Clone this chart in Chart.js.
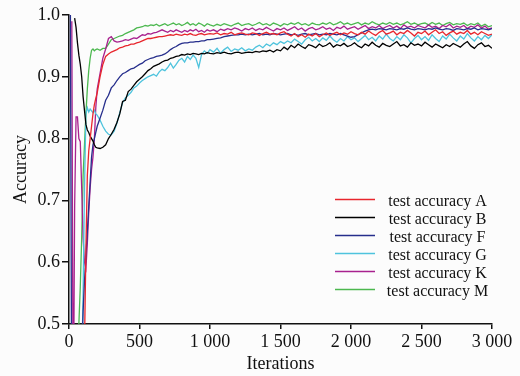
<!DOCTYPE html>
<html>
<head>
<meta charset="utf-8">
<script src="https://cdn.jsdelivr.net/npm/chart.js@4"></script>
<style>
  html, body { margin: 0; padding: 0; background: #fcfcfc; }
  canvas { display: block; }
</style>
</head>
<body>
<canvas id="accChart" width="520" height="376"></canvas>
<script>
// iterations (denser sampling at the start where curves change fast)
const iterations = [
  0,10,20,30,40,50,60,70,80,90,100,110,120,130,140,150,160,170,180,190,200,
  220,240,260,280,300,320,340,360,380,400,420,440,460,480,500,520,540,560,580,600,
  620,640,660,680,700,720,740,760,780,800,820,840,860,880,900,920,940,960,980,1000,
  1025,1050,1075,1100,1125,1150,1175,1200,1225,1250,
  1275,1300,1325,1350,1375,1400,1425,1450,1475,1500,
  1525,1550,1575,1600,1625,1650,1675,1700,1725,1750,
  1775,1800,1825,1850,1875,1900,1925,1950,1975,2000,
  2025,2050,2075,2100,2125,2150,2175,2200,2225,2250,
  2275,2300,2325,2350,2375,2400,2425,2450,2475,2500,
  2525,2550,2575,2600,2625,2650,2675,2700,2725,2750,
  2775,2800,2825,2850,2875,2900,2925,2950,2975,3000
];

const accA = [
  null,null,null,null,null,null,null,null,null,0.30,0.38,0.47,0.62,0.74,0.78,0.80,0.82,0.84,0.855,0.865,0.874,
  0.90,0.92,0.933,0.937,0.94,0.942,0.944,0.947,0.948,0.95,0.951,0.953,0.953,0.955,0.956,0.958,0.96,0.962,0.962,0.963,
  0.964,0.965,0.965,0.966,0.967,0.968,0.967,0.969,0.968,0.967,0.969,0.968,0.97,0.968,0.967,0.969,0.97,0.968,0.969,0.97,
  0.969,0.971,0.968,0.97,0.969,0.972,0.968,0.97,0.971,0.969,
  0.968,0.971,0.97,0.967,0.97,0.972,0.969,0.97,0.968,0.971,
  0.973,0.969,0.966,0.97,0.965,0.968,0.964,0.969,0.966,0.97,
  0.965,0.968,0.971,0.967,0.97,0.972,0.968,0.971,0.969,0.973,
  0.97,0.968,0.972,0.969,0.974,0.97,0.967,0.972,0.975,0.969,
  0.971,0.974,0.968,0.972,0.97,0.975,0.971,0.966,0.972,0.97,
  0.974,0.968,0.972,0.976,0.97,0.973,0.967,0.971,0.974,0.969,
  0.972,0.97,0.975,0.969,0.972,0.968,0.973,0.97,0.967,0.969
];

const accB = [
  null,null,null,null,0.995,0.98,0.955,0.935,0.92,0.90,0.868,0.845,0.823,0.814,0.81,0.804,0.80,0.796,0.79,0.786,0.785,
  0.784,0.786,0.79,0.80,0.807,0.815,0.826,0.84,0.86,0.862,0.876,0.88,0.886,0.892,0.896,0.90,0.905,0.91,0.913,0.917,
  0.919,0.921,0.924,0.926,0.927,0.93,0.931,0.933,0.934,0.936,0.935,0.937,0.936,0.938,0.937,0.936,0.938,0.937,0.939,0.938,
  0.937,0.939,0.938,0.94,0.938,0.937,0.939,0.94,0.938,0.939,
  0.94,0.939,0.941,0.94,0.942,0.941,0.943,0.94,0.944,0.942,
  0.948,0.944,0.951,0.947,0.953,0.949,0.946,0.952,0.95,0.947,
  0.953,0.949,0.951,0.955,0.948,0.952,0.95,0.954,0.949,0.951,
  0.955,0.95,0.947,0.953,0.95,0.956,0.951,0.948,0.954,0.951,
  0.949,0.953,0.957,0.95,0.952,0.948,0.955,0.951,0.953,0.95,
  0.956,0.952,0.948,0.953,0.95,0.947,0.952,0.949,0.954,0.951,
  0.948,0.953,0.957,0.95,0.946,0.952,0.955,0.949,0.951,0.946
];

const accF = [
  null,1.0,0.3,0.3,0.3,0.3,0.3,0.3,0.35,0.45,0.52,0.57,0.61,0.65,0.69,0.73,0.77,0.79,0.80,0.81,0.82,
  0.833,0.846,0.862,0.87,0.882,0.887,0.894,0.90,0.905,0.907,0.91,0.913,0.914,0.917,0.92,0.922,0.926,0.928,0.93,0.931,
  0.933,0.934,0.935,0.937,0.94,0.944,0.947,0.949,0.952,0.954,0.955,0.955,0.956,0.956,0.957,0.957,0.958,0.958,0.96,0.96,
  0.961,0.962,0.963,0.965,0.966,0.967,0.968,0.968,0.969,0.968,
  0.969,0.968,0.969,0.97,0.968,0.969,0.968,0.97,0.969,0.968,
  0.969,0.97,0.968,0.969,0.967,0.969,0.97,0.968,0.969,0.97,
  0.968,0.969,0.968,0.97,0.969,0.968,0.97,0.968,0.966,0.964,
  0.965,0.968,0.971,0.974,0.976,0.977,0.976,0.978,0.977,0.976,
  0.978,0.977,0.976,0.978,0.977,0.979,0.977,0.976,0.978,0.977,
  0.976,0.978,0.977,0.979,0.977,0.976,0.978,0.977,0.975,0.978,
  0.977,0.976,0.978,0.977,0.979,0.976,0.978,0.977,0.976,0.978
];

const accG = [
  0.3,0.3,0.3,0.3,0.3,0.3,0.3,0.3,0.3,0.42,0.55,0.72,0.84,0.85,0.843,0.848,0.845,0.842,0.846,0.84,0.838,
  0.83,0.82,0.812,0.807,0.806,0.812,0.825,0.842,0.858,0.866,0.87,0.875,0.882,0.885,0.89,0.894,0.897,0.90,0.902,0.904,
  0.901,0.908,0.912,0.91,0.915,0.922,0.914,0.92,0.927,0.93,0.924,0.933,0.928,0.935,0.93,0.915,0.936,0.942,0.938,0.944,
  0.94,0.946,0.938,0.944,0.948,0.941,0.945,0.943,0.947,0.942,
  0.945,0.943,0.948,0.951,0.947,0.953,0.95,0.955,0.952,0.957,
  0.954,0.958,0.955,0.961,0.957,0.953,0.96,0.964,0.958,0.962,
  0.957,0.963,0.959,0.966,0.96,0.956,0.962,0.958,0.965,0.96,
  0.963,0.957,0.962,0.967,0.96,0.964,0.958,0.966,0.961,0.969,
  0.962,0.958,0.965,0.96,0.968,0.963,0.955,0.962,0.967,0.96,
  0.965,0.959,0.968,0.962,0.957,0.966,0.961,0.969,0.963,0.958,
  0.966,0.961,0.97,0.963,0.958,0.965,0.96,0.967,0.962,0.968
];

const accK = [
  null,null,0.99,0.3,0.69,0.835,0.835,0.80,0.795,0.72,0.64,0.60,0.59,0.63,0.68,0.72,0.75,0.77,0.80,0.85,0.88,
  0.905,0.93,0.945,0.962,0.965,0.958,0.956,0.957,0.958,0.96,0.959,0.961,0.963,0.962,0.965,0.968,0.967,0.97,0.969,0.971,
  0.972,0.974,0.976,0.974,0.972,0.975,0.973,0.976,0.974,0.972,0.975,0.973,0.976,0.974,0.977,0.973,0.975,0.972,0.976,0.974,
  0.976,0.973,0.977,0.975,0.978,0.976,0.979,0.977,0.974,0.978,
  0.976,0.979,0.975,0.978,0.976,0.98,0.977,0.974,0.978,0.976,
  0.979,0.975,0.978,0.981,0.976,0.979,0.974,0.978,0.98,0.976,
  0.978,0.981,0.977,0.979,0.975,0.98,0.978,0.982,0.977,0.979,
  0.981,0.977,0.98,0.983,0.978,0.981,0.979,0.983,0.978,0.981,
  0.983,0.979,0.982,0.978,0.984,0.98,0.982,0.979,0.983,0.981,
  0.979,0.984,0.98,0.982,0.978,0.983,0.981,0.985,0.979,0.982,
  0.98,0.983,0.978,0.982,0.98,0.984,0.979,0.982,0.977,0.979
];

const accM = [
  0.3,0.3,0.3,0.3,0.3,0.3,0.40,0.50,0.56,0.64,0.74,0.79,0.84,0.88,0.91,0.93,0.943,0.945,0.942,0.944,0.945,
  0.943,0.946,0.946,0.953,0.96,0.962,0.964,0.966,0.967,0.97,0.972,0.974,0.976,0.979,0.98,0.981,0.983,0.982,0.984,0.983,
  0.985,0.982,0.984,0.986,0.983,0.985,0.987,0.984,0.986,0.983,0.985,0.988,0.984,0.986,0.983,0.987,0.985,0.982,0.986,0.984,
  0.982,0.985,0.983,0.986,0.984,0.982,0.985,0.987,0.983,0.985,
  0.986,0.983,0.985,0.988,0.984,0.986,0.983,0.987,0.985,0.982,
  0.986,0.984,0.987,0.985,0.988,0.984,0.986,0.983,0.987,0.985,
  0.984,0.987,0.985,0.988,0.984,0.986,0.989,0.985,0.987,0.984,
  0.986,0.988,0.984,0.987,0.985,0.989,0.986,0.984,0.987,0.985,
  0.988,0.985,0.987,0.984,0.986,0.989,0.985,0.987,0.984,0.986,
  0.987,0.984,0.988,0.985,0.987,0.983,0.986,0.988,0.984,0.986,
  0.985,0.987,0.983,0.986,0.984,0.987,0.982,0.985,0.981,0.983
];

const seriesNames = ['test accuracy A','test accuracy B','test accuracy F','test accuracy G','test accuracy K','test accuracy M'];
const seriesValues = [accA, accB, accF, accG, accK, accM];
const seriesColors = ['#e8262d','#000000','#262e8c','#4ec3dd','#a8218e','#4cb84f'];

const xTicks = [0,500,1000,1500,2000,2500,3000];
const xTickLabels = ['0','500','1 000','1 500','2 000','2 500','3 000'];
const yTickLabels = ['0.5','0.6','0.7','0.8','0.9','1.0'];

const serif = '"Liberation Serif", "Times New Roman", serif';

// legend drawn inside the plot, lower right
const insideLegend = {
  id: 'insideLegend',
  afterDatasetsDraw(chart) {
    const {ctx, chartArea} = chart;
    const x0 = chartArea.right - 157;
    const x1 = chartArea.right - 117;
    const tx = chartArea.right - 54.5;
    ctx.save();
    ctx.font = '16px ' + serif;
    ctx.textAlign = 'center';
    ctx.textBaseline = 'alphabetic';
    chart.data.datasets.forEach((ds, i) => {
      const y = chartArea.top + 184.5 + i * 18;
      ctx.strokeStyle = ds.borderColor;
      ctx.lineWidth = 1.5;
      ctx.beginPath();
      ctx.moveTo(x0, y);
      ctx.lineTo(x1, y);
      ctx.stroke();
      ctx.fillStyle = '#111';
      ctx.fillText(ds.label, tx, y + 6);
    });
    ctx.restore();
  }
};

new Chart(document.getElementById('accChart'), {
  type: 'line',
  data: {
    datasets: seriesValues.map((vals, i) => ({
      label: seriesNames[i],
      data: vals.map((v, j) => ({x: iterations[j], y: v})),
      borderColor: seriesColors[i],
      backgroundColor: seriesColors[i],
      borderWidth: 1.3,
      pointRadius: 0,
      tension: 0,
      fill: false
    }))
  },
  plugins: [insideLegend],
  options: {
    responsive: false,
    animation: false,
    layout: { padding: { top: 15, right: 28, left: 0, bottom: 0 } },
    plugins: {
      legend: { display: false },
      tooltip: { enabled: false }
    },
    scales: {
      x: {
        type: 'linear',
        min: 0,
        max: 3000,
        afterFit: (s) => { s.height = 52; },
        border: { display: true, color: '#111', width: 1.5 },
        grid: { drawOnChartArea: false, drawTicks: true, tickLength: 5, color: '#111', lineWidth: 1.5 },
        ticks: {
          stepSize: 500,
          padding: 2,
          color: '#111',
          font: { family: serif, size: 18 },
          maxRotation: 0,
          callback: (v) => { const k = xTicks.indexOf(v); return k < 0 ? '' : xTickLabels[k]; }
        },
        title: {
          display: true,
          text: 'Iterations',
          color: '#111',
          font: { family: serif, size: 18 },
          padding: { top: 0, bottom: 1 }
        }
      },
      y: {
        min: 0.5,
        max: 1.0,
        afterFit: (s) => { s.width = 69; },
        border: { display: true, color: '#111', width: 1.5 },
        grid: { drawOnChartArea: false, drawTicks: true, tickLength: 7, color: '#111', lineWidth: 1.5 },
        ticks: {
          stepSize: 0.1,
          padding: 2,
          color: '#111',
          font: { family: serif, size: 18 },
          callback: (v, i) => yTickLabels[i]
        },
        title: {
          display: true,
          text: 'Accuracy',
          color: '#111',
          font: { family: serif, size: 18 },
          padding: { top: 10, bottom: 0 }
        }
      }
    }
  }
});
</script>
</body>
</html>
